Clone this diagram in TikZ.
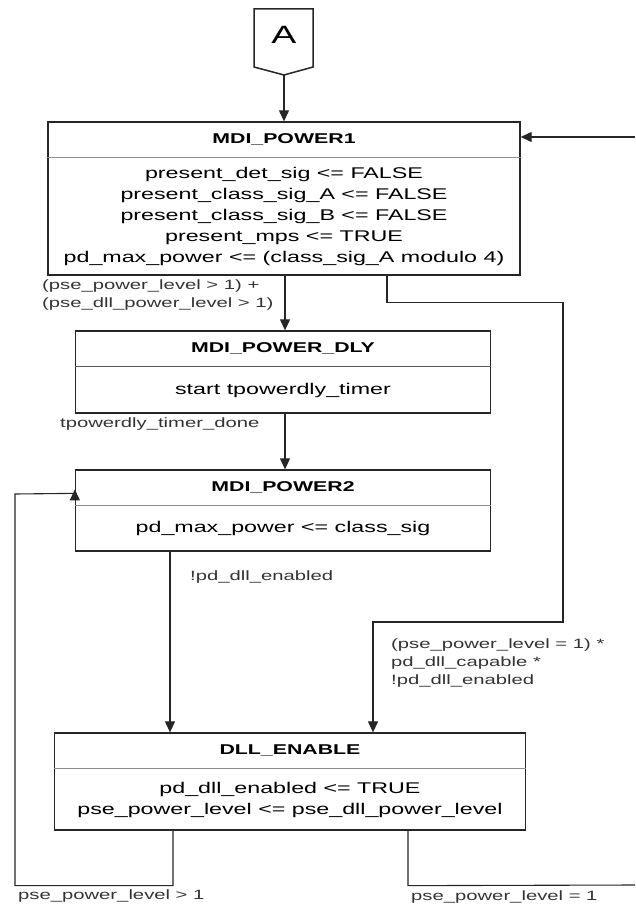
\documentclass[tikz,border=0pt]{standalone}
\usepackage{fontspec}
\setmainfont{Liberation Sans}[FakeStretch=1.5]
\usetikzlibrary{arrows.meta, positioning, calc}

\begin{document}
\begin{tikzpicture}[x=1pt, y=-1pt,
    every node/.style={font=\fontsize{15.5}{21}\selectfont},
    state/.style={draw=black!85, line width=1.3pt, inner sep=0pt},
    stitle/.style={font=\fontsize{14.2}{18}\selectfont\bfseries, minimum height=36pt, inner sep=0pt},
    body/.style={align=center, inner sep=0pt},
    lbl/.style={font=\fontsize{13.5}{18}\selectfont, align=left, inner sep=0pt, anchor=west, black!80},
    divider/.style={black!45, line width=1pt},
    wire/.style={black!85, line width=1.1pt},
    arr/.style={wire, -{Triangle[length=11pt, width=10pt]}}]

    \useasboundingbox (0,0) rectangle (635,907);

    % --- Conector A ---
    \node[font=\fontsize{25}{25}\selectfont] (A) at (284,35) {A};
    \draw[black!85, line width=1.5pt] (254,9) -- (313,9) -- (313,67) -- (284,75) -- (254,67) -- cycle;
    \coordinate (Aout) at (284,75);

    % --- MDI_POWER1 ---
    \node[state, minimum width=472pt, minimum height=153pt] (p1) at (284,198.5) {};
    \node[stitle, below=0pt of p1.north] (p1t) {MDI\_POWER1};
    \draw[divider] (p1t.south -| p1.west) -- (p1t.south -| p1.east);
    \node[body] (p1b) at ($(p1t.south)!0.5!(p1.south)$) {present\_det\_sig <= FALSE\\
      present\_class\_sig\_A <= FALSE\\
      present\_class\_sig\_B <= FALSE\\
      present\_mps <= TRUE\\
      pd\_max\_power <= (class\_sig\_A modulo 4)};

    % --- MDI_POWER_DLY ---
    \node[state, minimum width=415pt, minimum height=82pt] (dly) at (283,372) {};
    \node[stitle, below=0pt of dly.north] (dlyt) {MDI\_POWER\_DLY};
    \draw[divider, black!65] (dlyt.south -| dly.west) -- (dlyt.south -| dly.east);
    \node[body] (dlyb) at ($(dlyt.south)!0.5!(dly.south)$) {start tpowerdly\_timer};

    % --- MDI_POWER2 ---
    \node[state, minimum width=415pt, minimum height=81pt] (p2) at (283,510.5) {};
    \node[stitle, below=0pt of p2.north] (p2t) {MDI\_POWER2};
    \draw[divider] (p2t.south -| p2.west) -- (p2t.south -| p2.east);
    \node[body] (p2b) at ($(p2t.south)!0.5!(p2.south)$) {pd\_max\_power <= class\_sig};

    % --- DLL_ENABLE ---
    \node[state, minimum width=471pt, minimum height=97pt] (dll) at (290,781.5) {};
    \node[stitle, below=0pt of dll.north] (dllt) {DLL\_ENABLE};
    \draw[divider] (dllt.south -| dll.west) -- (dllt.south -| dll.east);
    \node[body] (dllb) at ($(dllt.south)!0.5!(dll.south)$) {pd\_dll\_enabled <= TRUE\\
      pse\_power\_level <= pse\_dll\_power\_level};

    % --- Transiciones ---
    \draw[arr] (Aout) -- (p1.north);
    \coordinate (in1) at (635,137);
    \draw[arr] (in1) -- (in1 -| p1.east);

    \draw[arr] ([xshift=1pt]p1.south) -- ([xshift=1pt]p1.south |- dly.north);
    \node[lbl] (c1) at (42,295) {(pse\_power\_level > 1) +\\(pse\_dll\_power\_level > 1)};

    \draw[arr] ([xshift=103pt]p1.south) -- ++(0,27) -| (563,622) -| ([xshift=83pt]dll.north);
    \node[lbl] (c2) at (391,663) {(pse\_power\_level = 1) *\\pd\_dll\_capable *\\!pd\_dll\_enabled};

    \draw[arr] ([xshift=2pt]dly.south) -- ([xshift=2pt]dly.south |- p2.north);
    \node[lbl] (c3) at (60,424) {tpowerdly\_timer\_done};

    \draw[arr] ([xshift=-113pt]p2.south) -- ([xshift=-113pt]p2.south |- dll.north);
    \node[lbl] (c4) at (190,577) {!pd\_dll\_enabled};

    \draw[arr] ([xshift=-117pt]dll.south) -- ++(0,55) -| (15,494) -- ([yshift=-24pt]p2.north west) -- ++(0,-4);
    \node[lbl] (c5) at (18,896) {pse\_power\_level > 1};

    \draw[wire] ([xshift=118pt]dll.south) -- ++(0,55) -- (635,885);
    \node[lbl] (c6) at (411,897) {pse\_power\_level = 1};

\end{tikzpicture}
\end{document}
